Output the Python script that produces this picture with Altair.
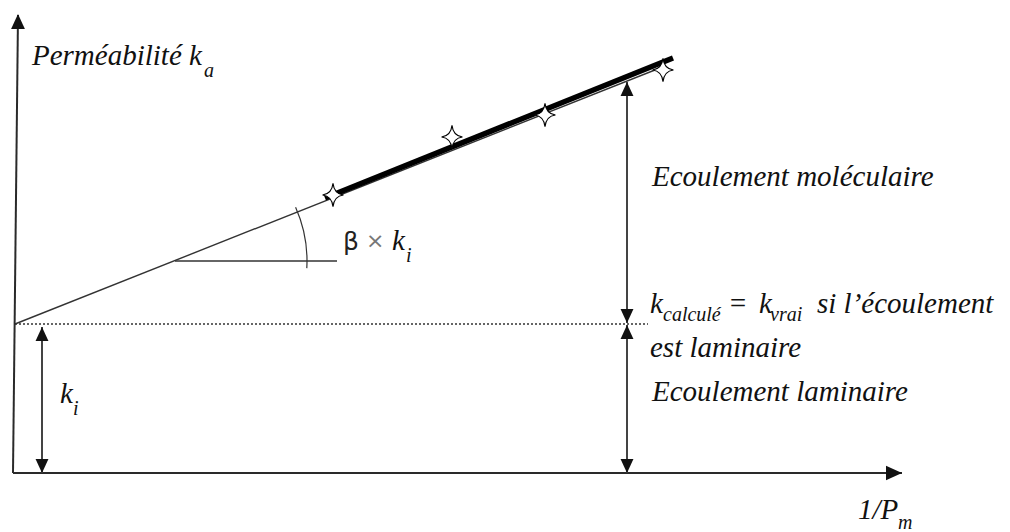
import altair as alt
import pandas as pd

# ---------------- data (schematic units: origin at the axes crossing) ----------------
ki = 149                                   # intercept k_i on the vertical axis
axis_y_x = [-2, 3]; axis_y_y = [0, 458]    # vertical axis (slightly tilted in the scan)
axis_x_x = [-2, 887]; axis_x_y = [0, 0]    # horizontal axis 1/Pm
thin_x = [0, 650]; thin_y = [ki, 407]      # extrapolated straight line
fit_x = [310, 658]; fit_y = [275, 415]     # bold fitted segment
meas_x = [318, 437, 530, 648]              # measured points (stars)
meas_y = [278, 336, 358, 403]
dot_x = [0, 633]                           # dotted level k_i
angle_x = [160, 322]; angle_y = [212, 212] # horizontal leg of the slope angle
right_arrow_x = 612
top_k = 391
left_arrow_x = 27

W, H = 994, 524
xs = alt.Scale(domain=[-7, 987], nice=False, zero=False)
ys = alt.Scale(domain=[-59, 465], nice=False, zero=False)
X = lambda f: alt.X(f, type="quantitative", scale=xs, axis=None)
Y = lambda f: alt.Y(f, type="quantitative", scale=ys, axis=None)


def seg_df(rows):
    return pd.DataFrame(rows, columns=["x", "y", "x2", "y2"])


def rules(df, width, color, dash=None):
    kw = dict(strokeWidth=width, color=color, strokeCap="butt")
    if dash:
        kw["strokeDash"] = dash
    return alt.Chart(df).mark_rule(**kw).encode(
        x=X("x"), y=Y("y"), x2="x2", y2="y2")


axes = rules(seg_df([
    [axis_y_x[0], axis_y_y[0], axis_y_x[1], axis_y_y[1]],
    [axis_x_x[0], axis_x_y[0], axis_x_x[1], axis_x_y[1]],
]), 2, "#2a2a2a")

arrows = rules(seg_df([
    [right_arrow_x, ki + 1, right_arrow_x, top_k],
    [right_arrow_x, 0, right_arrow_x, ki - 1],
    [left_arrow_x, 0, left_arrow_x, ki - 3],
]), 2, "#444444")

dotted = rules(seg_df([[dot_x[0], ki, dot_x[1], ki]]), 1.3, "#333333", [2, 2])
thin = rules(seg_df([
    [thin_x[0], thin_y[0], thin_x[1], thin_y[1]],
    [angle_x[0], angle_y[0], angle_x[1], angle_y[1]],
]), 1.4, "#333333")
thick = rules(seg_df([[fit_x[0], fit_y[0], fit_x[1], fit_y[1]]]), 5.5, "#000000")

# arrow heads: tip at the data point, pointing up for angle 0
head_path = "M0,0L-0.46,1L0.46,1Z"
heads = pd.DataFrame({
    "x": [axis_y_x[1], axis_x_x[1], right_arrow_x, right_arrow_x, right_arrow_x, right_arrow_x,
          left_arrow_x, left_arrow_x],
    "y": [axis_y_y[1] + 1, 0, top_k, ki + 1, ki - 1, 0, ki - 3, 0],
    "ang": [0, 90, 0, 180, 0, 180, 0, 180],
    "sz": [900, 1024, 784, 784, 784, 784, 784, 784],
})
head_layer = alt.Chart(heads).mark_point(
    shape=head_path, filled=True, color="#111111", opacity=1, strokeWidth=0
).encode(x=X("x"), y=Y("y"), angle=alt.Angle("ang:Q", scale=None),
         size=alt.Size("sz:Q", scale=None))

# angle arc
arc_layer = alt.Chart(pd.DataFrame({"x": [angle_x[0]], "y": [angle_y[0]]})).mark_arc(
    theta=1.152, theta2=1.625, radius=132, radius2=132,
    fill="white", fillOpacity=0, stroke="#333333", strokeWidth=1.2
).encode(x=X("x"), y=Y("y"))

# measured points (4-pointed hollow stars)
star_path = ("M0,-1Q0.1,-0.1 0.9,0Q0.1,0.1 0,1Q-0.1,0.1 -0.9,0"
             "Q-0.1,-0.1 0,-1Z")
stars = alt.Chart(pd.DataFrame({"x": meas_x, "y": meas_y})).mark_point(
    shape=star_path, filled=True, fill="white", stroke="#000000", strokeWidth=1.1,
    opacity=1, size=540
).encode(x=X("x"), y=Y("y"))

# texts
main_txt = pd.DataFrame([
    [17, 408, "Perméabilité k"],
    [637, 287, "Ecoulement moléculaire"],
    [635, 160, "k"],
    [713, 160, "="],
    [744, 160, "k"],
    [802, 160, "si l’écoulement"],
    [635, 116, "est laminaire"],
    [637, 72, "Ecoulement laminaire"],
    [45, 70, "k"],
    [377, 223, "k"],
    [843, -46, "1/P"],
], columns=["x", "y", "t"])
sub_txt = pd.DataFrame([
    [189, 396, "a"],
    [648, 152, "calculé"],
    [755, 152, "vrai"],
    [58, 58, "i"],
    [391, 211, "i"],
    [883, -56, "m"],
], columns=["x", "y", "t"])


def texts(df, size, font="Liberation Serif", style="italic", color="#111111"):
    return alt.Chart(df).mark_text(
        align="left", baseline="alphabetic", font=font, fontSize=size,
        fontStyle=style, color=color
    ).encode(x=X("x"), y=Y("y"), text="t:N")


t_main = texts(main_txt, 29)
t_sub = texts(sub_txt, 20)
t_beta = texts(pd.DataFrame([[328, 223, "β"]], columns=["x", "y", "t"]), 25,
               font="DejaVu Sans", style="normal", color="#222222")
t_times = texts(pd.DataFrame([[351, 225, "×"]], columns=["x", "y", "t"]), 22,
                font="DejaVu Sans", style="normal", color="#777777")

chart = alt.layer(
    dotted, thin, arc_layer, axes, arrows, head_layer, thick, stars,
    t_main, t_sub, t_beta, t_times
).properties(
    width=W, height=H, padding=0,
    autosize=alt.AutoSizeParams(type="none"),
    background="white"
).configure_view(stroke=None)

chart.save("out.html", embed_options={"renderer": "svg", "actions": False})
